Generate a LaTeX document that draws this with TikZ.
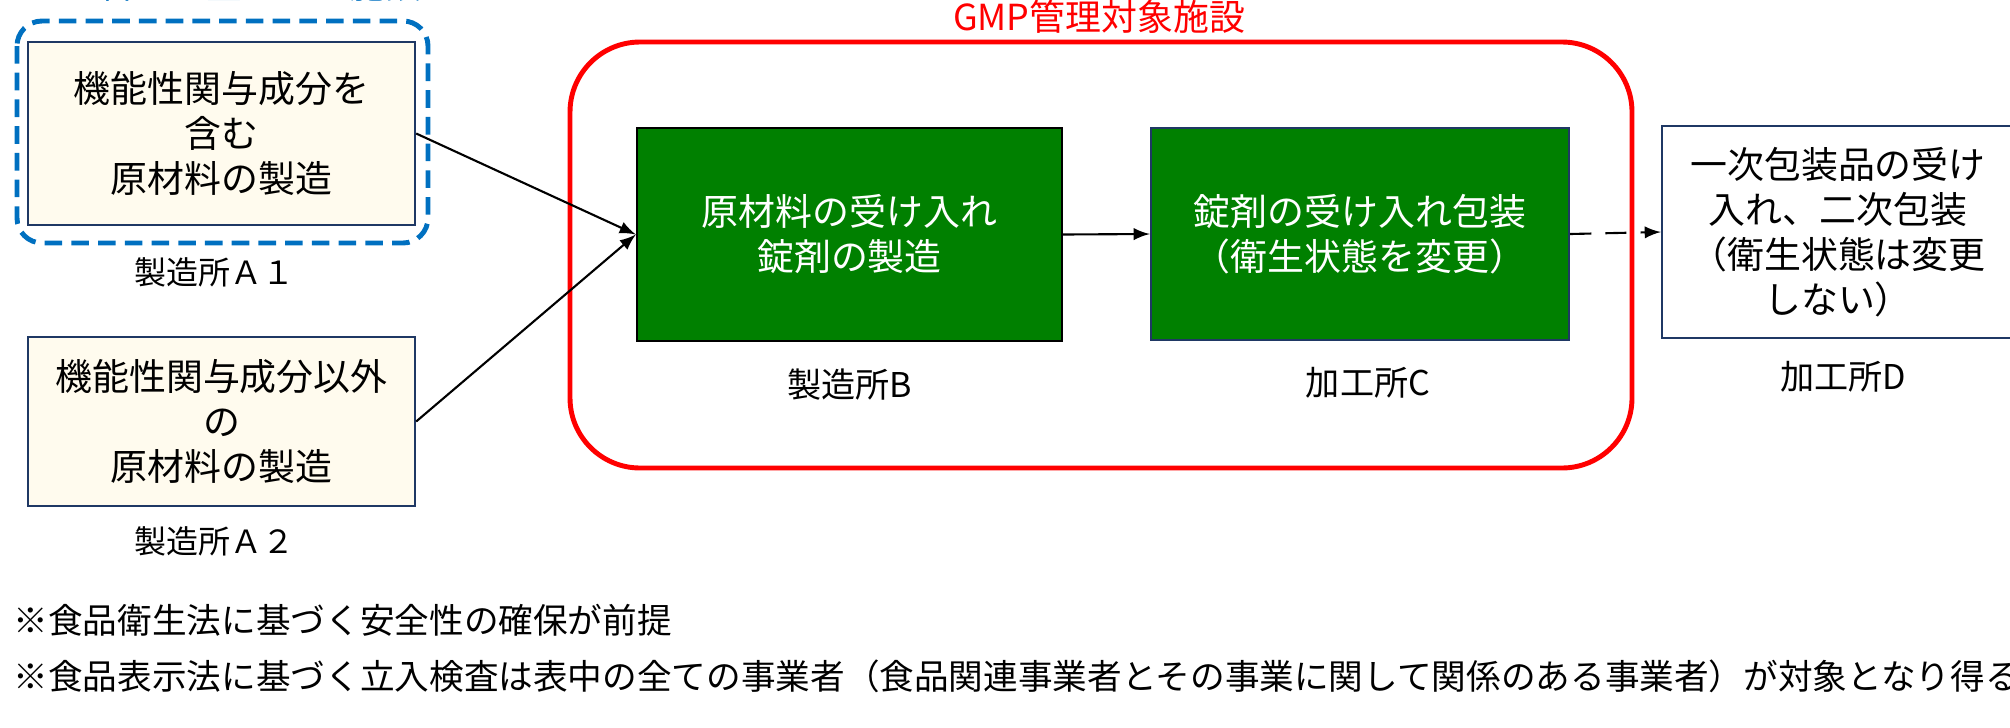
\documentclass[tikz,border=0pt]{standalone}
\usepackage{fontspec}
\setmainfont{Noto Sans CJK JP}
\usepackage{tikz}
\usepackage{xcolor}
\definecolor{frameblue}{HTML}{0070C0}
\definecolor{framered}{HTML}{FF0000}
\definecolor{boxgreen}{HTML}{008000}
\definecolor{boxnavy}{HTML}{1F3864}
\definecolor{boxcream}{HTML}{FFFBEE}

\begin{document}
\begin{tikzpicture}[x=0.01cm,y=-0.01cm,
    srcbox/.style={draw=boxnavy,line width=0.6pt,fill=boxcream,align=center,inner sep=0pt,
      minimum width=3.87cm,font=\fontsize{10.5}{12.8}\selectfont},
    gmpbox/.style={draw,line width=0.6pt,fill=boxgreen,text=white,align=center,inner sep=0pt,
      minimum height=2.12cm,font=\fontsize{10.5}{12.8}\selectfont},
    sitelabel/.style={font=\fontsize{9.7}{11}\selectfont},
    note/.style={anchor=west,inner sep=0pt,font=\fontsize{9.85}{11}\selectfont},
    flow/.style={-latex,line width=0.6pt}]
    \useasboundingbox (0,0) rectangle (2010,727);

    % frames
    \draw [frameblue,line width=1.4pt,dash pattern=on 5pt off 2.6pt,rounded corners=0.25cm]
        (17,21) rectangle (428,243);
    \node (bluetitle) at (222,-2) [anchor=base,text=frameblue,font=\fontsize{10.2}{12}\selectfont] {GMP管理が望ましい施設};
    \draw [framered,line width=1.4pt,rounded corners=0.7cm] (570,42) rectangle (1632,468);
    \node (redtitle) at (1099,17) [text=framered,font=\fontsize{10.2}{12}\selectfont] {GMP管理対象施設};

    % raw material makers
    \node (A1) at (221.5,133.5) [srcbox,minimum height=1.83cm] {機能性関与成分を\\含む\\原材料の製造};
    \node (labA1) at (214,272) [sitelabel,font=\fontsize{9.1}{11}\selectfont] {製造所Ａ１};
    \node (A2) at (221.5,421.5) [srcbox,minimum height=1.69cm] {機能性関与成分以外\\の\\原材料の製造};
    \node (labA2) at (214,541) [sitelabel,font=\fontsize{9.1}{11}\selectfont] {製造所Ａ２};

    % GMP sites
    \node (B) at (849.5,234.5) [gmpbox,minimum width=4.25cm] {原材料の受け入れ\\錠剤の製造};
    \node (labB) at (850,385) [sitelabel] {製造所B};
    \node (C) at (1360,234) [gmpbox,draw=boxnavy,minimum width=4.18cm] {錠剤の受け入れ包装\\（衛生状態を変更）};
    \node (labC) at (1368,383) [sitelabel] {加工所C};

    % secondary packing
    \node (D) at (1838,232) [srcbox,fill=white,minimum width=3.52cm,minimum height=2.12cm] {一次包装品の受け\\入れ、二次包装\\（衛生状態は変更\\しない）};
    \node (labD) at (1843,377) [sitelabel] {加工所D};

    \draw [flow] (A1.east) -- (B.west);
    \draw [flow] (A2.east) -- (B.west);
    \draw [flow] (B.east) -- (C.west);
    \draw [flow,dash pattern=on 6pt off 4pt] (C.east) -- (D.west);

    % notes
    \node (note1) at (13,620) [note] {※食品衛生法に基づく安全性の確保が前提};
    \node (note2) at (13,676) [note] {※食品表示法に基づく立入検査は表中の全ての事業者（食品関連事業者とその事業に関して関係のある事業者）が対象となり得る};
\end{tikzpicture}
\end{document}
